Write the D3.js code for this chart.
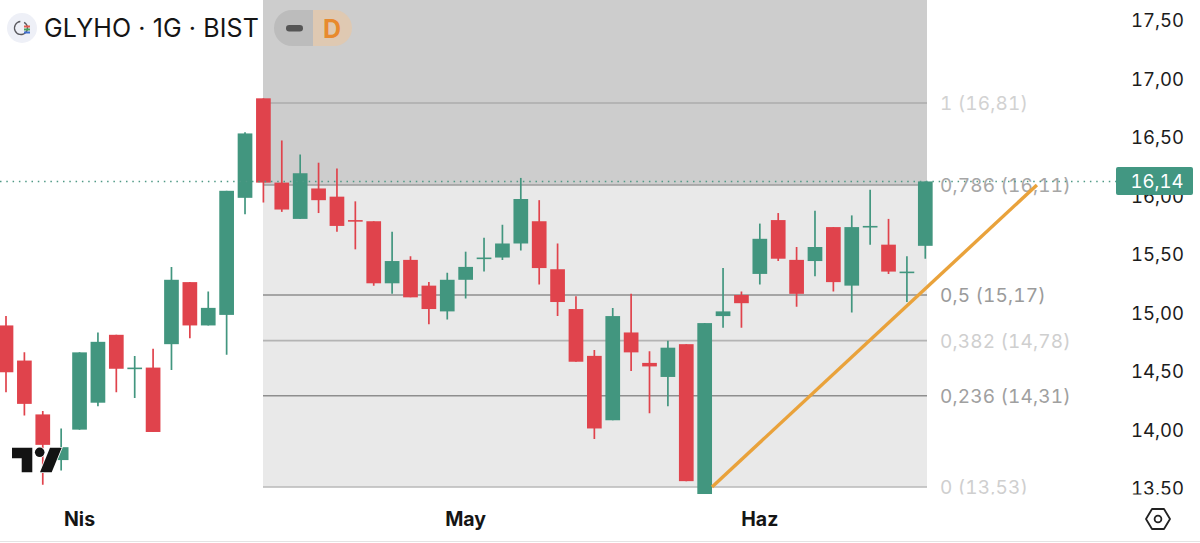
<!DOCTYPE html>
<html><head><meta charset="utf-8">
<script src="https://cdn.jsdelivr.net/npm/d3@7"></script>
<style>html,body{margin:0;padding:0;background:#fff;overflow:hidden}svg{display:block}text{font-family:Inter,Roboto,sans-serif}.num{font-variant-numeric:tabular-nums}</style>
</head><body><svg id="c" width="1200" height="543"></svg>
<script>
const opens  = [14.91,14.61,14.15,13.76,14.02,14.25,14.83,14.55,14.55,14.75,15.28,14.91,15.00,16.00,16.85,16.13,15.82,16.08,16.01,15.81,15.80,15.27,15.47,15.25,15.03,15.30,15.49,15.49,15.61,15.80,15.39,15.05,14.65,14.10,14.85,14.59,14.47,14.75,13.47,14.99,15.17,15.35,15.81,15.47,15.46,15.75,15.25,15.76,15.60,15.37,15.59];
const highs  = [14.99,14.68,14.18,14.03,14.68,14.85,14.83,14.65,14.71,15.41,15.28,15.20,16.06,16.56,16.85,16.49,16.37,16.30,16.25,15.97,15.80,15.71,15.50,15.28,15.36,15.54,15.66,15.77,16.17,15.98,15.61,15.16,14.70,15.06,15.18,14.69,14.78,14.75,14.93,15.40,15.20,15.78,15.87,15.58,15.89,15.75,15.85,16.07,15.82,15.50,16.14];
const lows   = [14.34,14.14,13.55,13.67,14.02,14.22,14.34,14.29,14.00,14.53,14.80,14.91,14.66,15.86,15.96,15.88,15.82,15.87,15.71,15.56,15.25,15.18,15.15,14.92,14.96,15.14,15.37,15.47,15.55,15.26,14.99,14.60,13.94,14.10,14.52,14.16,14.22,13.58,13.47,14.89,14.89,15.26,15.46,15.07,15.33,15.20,15.02,15.60,15.35,15.11,15.48];
const closes = [14.51,14.24,13.89,13.87,14.68,14.77,14.54,14.55,14.00,15.30,14.91,15.06,16.06,16.55,16.13,15.90,16.21,15.98,15.76,15.80,15.27,15.46,15.15,15.05,15.30,15.41,15.49,15.61,15.99,15.40,15.11,14.60,14.03,14.99,14.68,14.56,14.72,13.58,14.93,15.03,15.10,15.65,15.48,15.18,15.58,15.28,15.75,15.76,15.37,15.37,16.14];
const priceTicks = [13.5,14,14.5,15,15.5,16,16.5,17,17.5];
const monthLabels = ["Nis","May","Haz"];
const monthIndex = [4,25,41];
const fibRatios = ["1","0,786","0,5","0,382","0,236","0"];
const fibPrices = [16.81,16.11,15.17,14.78,14.31,13.53];
const fibLineColors = ["#ababab","#9c9c9c","#8e8e8e","#b4b4b4","#8e8e8e","#b8b8b8"];
const fibTextColors = ["#d2d2d2","#a6a6a6","#9b9b9b","#cfcfcf","#a0a0a0","#cfcfcf"];
const lastPrice = 16.14;
const trendIndex = [38.4,56.07];
const trendPrice = [13.53,16.11];
const titleText = "GLYHO · 1G · BIST";

const GREEN="#42967f", RED="#e0434c";
const x = d3.scaleLinear().domain([0,50]).range([6,925.3]);
const y = d3.scaleLinear().domain([13.53,16.81]).range([487,103]);
const fmt = d3.formatLocale({decimal:",",thousands:".",grouping:[3],currency:["","₺"]}).format(".2f");
const svg = d3.select("#c");
const bw = 14.7;
const defs = svg.append("defs");
defs.append("clipPath").attr("id","pane").append("rect").attr("x",0).attr("y",0).attr("width",1200).attr("height",494.5);

// Fibonacci zones
const left = 263, right = 927;
svg.append("rect").attr("x",left).attr("y",0).attr("width",right-left).attr("height",y(16.11)).attr("fill","#cdcdcd");
svg.append("rect").attr("x",left).attr("y",y(16.11)).attr("width",right-left).attr("height",y(13.53)-y(16.11)).attr("fill","#e9e9e9");
svg.selectAll("line.fib").data(fibPrices).join("line").attr("class","fib")
  .attr("x1",left).attr("x2",right).attr("y1",d=>y(d)).attr("y2",d=>y(d))
  .attr("stroke",(d,i)=>fibLineColors[i]).attr("stroke-width",1.6);

const pane = svg.append("g").attr("clip-path","url(#pane)");
pane.selectAll("text.fibl").data(fibPrices).join("text").attr("class","fibl num")
  .attr("x",940).attr("y",d=>y(d)+7).attr("font-size",19).attr("letter-spacing",0.17)
  .attr("fill",(d,i)=>fibTextColors[i])
  .text((d,i)=>`${fibRatios[i]} (${fmt(d)})`);

// price axis
const axis = d3.axisRight(y).tickValues(priceTicks).tickSize(0).tickPadding(0).tickFormat(fmt);
const ag = pane.append("g").attr("transform","translate(1131,-1.5)").call(axis);
ag.select(".domain").remove();
ag.selectAll("text").attr("class","num").attr("font-size",18.5).attr("fill","#1c1c1c").style("font-family","Inter,Roboto,sans-serif");

// last price dotted line
svg.append("line").attr("x1",0).attr("x2",1116).attr("y1",y(lastPrice)).attr("y2",y(lastPrice))
  .attr("stroke","#4f9985").attr("stroke-width",1.6).attr("stroke-dasharray","1.5 4.8");

// candles
const idx = d3.range(opens.length);
const g = pane.append("g");
g.selectAll("line.w").data(idx).join("line").attr("class","w")
  .attr("x1",i=>x(i)).attr("x2",i=>x(i)).attr("y1",i=>y(highs[i])).attr("y2",i=>y(lows[i]))
  .attr("stroke",i=>closes[i]>=opens[i]?GREEN:RED).attr("stroke-width",1.7);
g.selectAll("rect.b").data(idx).join("rect").attr("class","b")
  .attr("x",i=>x(i)-bw/2).attr("width",bw)
  .attr("y",i=>y(Math.max(opens[i],closes[i])))
  .attr("height",i=>Math.max(1.6,Math.abs(y(opens[i])-y(closes[i]))))
  .attr("fill",i=>closes[i]>=opens[i]?GREEN:RED);

// trend line
svg.append("line").attr("x1",x(trendIndex[0])).attr("y1",y(trendPrice[0])).attr("x2",x(trendIndex[1])).attr("y2",y(trendPrice[1]))
  .attr("stroke","#e9a23b").attr("stroke-width",3.4);

// price tag
svg.append("rect").attr("x",1116).attr("y",167).attr("width",77).attr("height",28).attr("rx",2).attr("fill","#429782");
svg.append("text").attr("class","num").attr("x",1157).attr("y",y(lastPrice)+6.5).attr("text-anchor","middle").attr("font-size",18.5).attr("fill","#fff").text(fmt(lastPrice));

// month labels
svg.selectAll("text.m").data(monthLabels).join("text").attr("class","m")
  .attr("x",(d,i)=>x(monthIndex[i])).attr("y",526).attr("text-anchor","middle")
  .attr("font-size",19.5).attr("font-weight",700).attr("fill","#151515").text(d=>d);
svg.append("line").attr("x1",0).attr("x2",1200).attr("y1",541.5).attr("y2",541.5).attr("stroke","#e4e4e4").attr("stroke-width",1.2);

// title
svg.append("circle").attr("cx",22).attr("cy",28).attr("r",15).attr("fill","#eef0f7");
svg.append("path").attr("d",d3.arc()({innerRadius:5.8,outerRadius:7.2,startAngle:0.5,endAngle:Math.PI*2-0.1}))
  .attr("transform","translate(21,28)").attr("fill","#5a5a5f");
[["#e05b4f",25.5],["#4aa35f",28.5],["#3f6fd0",31.5]].forEach(([c,yy])=>svg.append("rect").attr("x",24).attr("y",yy).attr("width",6).attr("height",2).attr("fill",c));
svg.append("text").attr("x",44).attr("y",37).attr("font-size",25).attr("letter-spacing",0.1).attr("fill","#151515").text(titleText);

// pill
svg.append("path").attr("d","M313 10H292a18 18 0 0 0 0 36H313Z").attr("fill","#bcbcbc");
svg.append("path").attr("d","M313 10H334a18 18 0 0 1 0 36H313Z").attr("fill","#dfc9b2");
svg.append("rect").attr("x",286).attr("y",25).attr("width",17).attr("height",6.5).attr("rx",3.2).attr("fill","#555");
svg.append("text").attr("x",332).attr("y",37.5).attr("text-anchor","middle").attr("font-size",25).attr("font-weight",700).attr("fill","#e88a2e").text("D");

// TradingView logo
const logo = svg.append("g").attr("fill","#131313").attr("stroke","#fff").attr("stroke-width",1.6).attr("paint-order","stroke");
logo.append("path").attr("d","M12 447.7H32.3V472.3H21.7V458.2H12Z");
logo.append("circle").attr("cx",39.7).attr("cy",452.3).attr("r",4.8);
logo.append("path").attr("d","M50 447.7H61.7L51.7 472.3H40Z");

// settings hexagon
const hex = svg.append("g").attr("transform","translate(1158,519)").attr("fill","none").attr("stroke","#222").attr("stroke-width",1.8);
hex.append("path").attr("d","M-12 0L-6 -10H6L12 0L6 10H-6Z").attr("stroke-linejoin","round");
hex.append("circle").attr("r",3.4);
</script></body></html>
